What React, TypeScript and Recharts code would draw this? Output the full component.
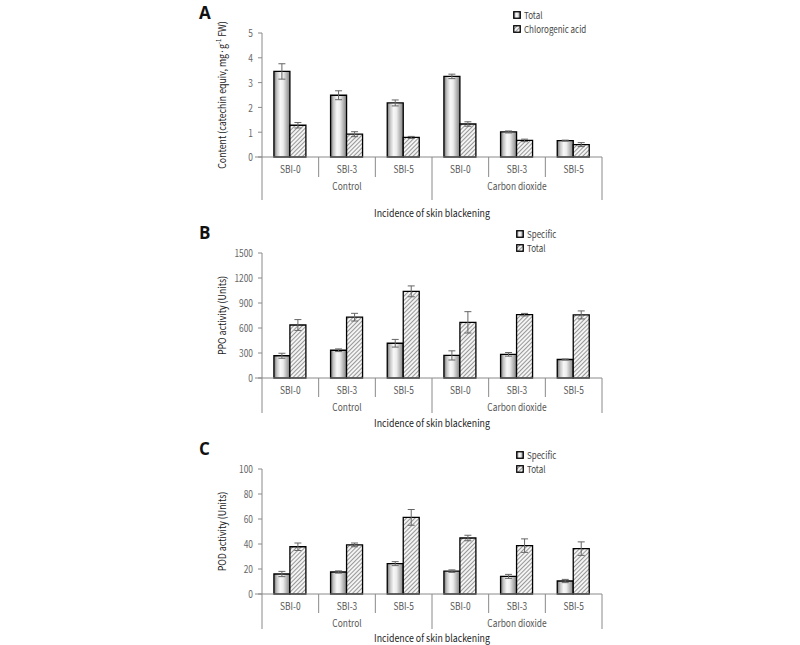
import React from "react";
import {
  BarChart,
  Bar,
  XAxis,
  YAxis,
  ErrorBar,
  Legend,
} from "recharts";

const categories = ["SBI-0", "SBI-3", "SBI-5", "SBI-0", "SBI-3", "SBI-5"];
const groupLabels = ["", "Control", "", "", "Carbon dioxide", ""];

// A: phenolic content
const phenolTotal = [3.45, 2.49, 2.18, 3.25, 1.01, 0.66];
const phenolTotalErr = [0.31, 0.18, 0.12, 0.09, 0.04, 0.02];
const chlorogenic = [1.28, 0.92, 0.79, 1.33, 0.67, 0.5];
const chlorogenicErr = [0.11, 0.1, 0.04, 0.09, 0.05, 0.08];

// B: PPO activity
const ppoSpecific = [267, 333, 417, 271, 284, 222];
const ppoSpecificErr = [30, 16, 46, 55, 22, 6];
const ppoTotal = [636, 730, 1040, 668, 760, 757];
const ppoTotalErr = [65, 46, 65, 128, 15, 48];

// C: POD activity
const podSpecific = [16.0, 17.6, 24.3, 18.3, 14.1, 10.4];
const podSpecificErr = [2.1, 0.9, 1.6, 1.0, 1.6, 1.3];
const podTotal = [37.8, 39.3, 61.3, 44.8, 38.7, 36.3];
const podTotalErr = [3.0, 1.5, 6.3, 2.2, 5.4, 5.4];

const ticksA = [0, 1, 2, 3, 4, 5];
const ticksB = [0, 300, 600, 900, 1200, 1500];
const ticksC = [0, 20, 40, 60, 80, 100];

const FONT = "'Noto Sans CJK KR', 'Noto Sans', sans-serif";
const SQUEEZE = 0.84; // the source font is a narrow one
const AXIS = "#8a8a8a";
const PLOT_LEFT = 262;
const PLOT_RIGHT = 602;
const BAND = (PLOT_RIGHT - PLOT_LEFT) / categories.length;

function buildRows(a: number[], aErr: number[], b: number[], bErr: number[]) {
  return categories.map((c, i) => ({
    cat: c,
    a: a[i],
    aErr: aErr[i],
    b: b[i],
    bErr: bErr[i],
  }));
}

// text squeezed horizontally around its anchor point
function NText(props: any) {
  const { x, y, rotate = 0, anchor = "middle", size = 10, fill = "#555", children } = props;
  return (
    <g transform={`translate(${x},${y}) rotate(${rotate}) scale(${SQUEEZE},1)`}>
      <text x={0} y={0} textAnchor={anchor} dominantBaseline="central" fontSize={size} fill={fill} fontFamily={FONT}>
        {children}
      </text>
    </g>
  );
}

function CategoryTick(props: any) {
  const { x, y, payload, shortLen, longLen } = props;
  const i = payload.index ?? 0;
  const left = x - BAND / 2;
  const right = x + BAND / 2;
  const isGroupEdge = i === 0 || i === 3;
  return (
    <g>
      <line x1={left} y1={y} x2={left} y2={y + (isGroupEdge ? longLen : shortLen)} stroke={AXIS} />
      {i === 0 && <line x1={left - 7} y1={y} x2={left} y2={y} stroke={AXIS} />}
      {i === categories.length - 1 && (
        <line x1={right} y1={y} x2={right} y2={y + longLen} stroke={AXIS} />
      )}
      <NText x={x} y={y + 12}>{payload.value}</NText>
      {groupLabels[i] && <NText x={x} y={y + 29}>{groupLabels[i]}</NText>}
    </g>
  );
}

function ValueTick(props: any) {
  const { x, y, payload } = props;
  return <NText x={x} y={y} anchor="end" fill="#666">{payload.value}</NText>;
}

function XTitle(props: any) {
  const { viewBox, dy } = props;
  return (
    <NText x={viewBox.x + viewBox.width / 2} y={viewBox.y + dy} size={10.5} fill="#222">
      Incidence of skin blackening
    </NText>
  );
}

function YTitle(props: any) {
  const { viewBox, text } = props;
  return (
    <NText x={PLOT_LEFT - 40} y={viewBox.y + viewBox.height / 2} rotate={-90} size={10.5} fill="#222">
      {text}
    </NText>
  );
}

function LegendBox(props: any) {
  const { names, id } = props;
  const fills = [`url(#cyl-${id})`, `url(#hatch-${id})`];
  return (
    <div style={{ fontFamily: FONT, fontSize: 9.5, color: "#444", lineHeight: "14px" }}>
      {names.map((n: string, k: number) => (
        <div key={n} style={{ display: "flex", alignItems: "center" }}>
          <svg width={8} height={8} style={{ marginRight: 3 }}>
            <rect x={0.75} y={0.75} width={6.5} height={6.5} fill={fills[k]} stroke="#000" strokeWidth={1.3} />
          </svg>
          <span style={{ display: "inline-block", transform: `scaleX(${SQUEEZE})`, transformOrigin: "left center", whiteSpace: "nowrap" }}>
            {n}
          </span>
        </div>
      ))}
    </div>
  );
}

function Panel(props: any) {
  const {
    id, letter, top, plotHeight, axisHeight, domain, ticks, yTitle,
    rows, names, shortLen, longLen, titleDy, legendTop, legendLeft,
  } = props;
  const height = 5 + plotHeight + axisHeight;
  return (
    <div style={{ position: "absolute", left: 0, top, width: 800, height }}>
      <div style={{ position: "absolute", left: 199, top: 1, fontFamily: "'Open Sans', sans-serif", fontWeight: 700, fontSize: 17, color: "#111" }}>
        {letter}
      </div>
      <BarChart
        width={800}
        height={height}
        data={rows}
        margin={{ top: 5, right: 800 - PLOT_RIGHT, bottom: 0, left: 0 }}
        barCategoryGap="21%"
        barGap={0}
        style={{ overflow: "visible" }}
      >
        <defs>
          <linearGradient id={`cyl-${id}`} x1="0" y1="0" x2="1" y2="0">
            <stop offset="0%" stopColor="#6e6e6e" />
            <stop offset="18%" stopColor="#c4c4c4" />
            <stop offset="40%" stopColor="#f8f8f8" />
            <stop offset="58%" stopColor="#ececec" />
            <stop offset="85%" stopColor="#a8a8a8" />
            <stop offset="100%" stopColor="#808080" />
          </linearGradient>
          <pattern id={`hatch-${id}`} width={3} height={3} patternUnits="userSpaceOnUse" patternTransform="rotate(45)">
            <rect width={3} height={3} fill="#f4f4f4" />
            <line x1={0} y1={0} x2={0} y2={3} stroke="#4a4a4a" strokeWidth={1.1} />
          </pattern>
        </defs>
        <XAxis
          dataKey="cat"
          interval={0}
          tickSize={0}
          tickMargin={0}
          tickLine={false}
          height={axisHeight}
          stroke={AXIS}
          tick={<CategoryTick shortLen={shortLen} longLen={longLen} />}
          label={<XTitle dy={titleDy} />}
        />
        <YAxis
          width={PLOT_LEFT}
          domain={domain}
          ticks={ticks}
          interval={0}
          stroke={AXIS}
          tickSize={4}
          tickMargin={5}
          tick={<ValueTick />}
          label={<YTitle text={yTitle} />}
        />
        <Legend
          verticalAlign="top"
          align="left"
          content={<LegendBox names={names} id={id} />}
          wrapperStyle={{ position: "absolute", left: legendLeft, top: legendTop, width: 140 }}
        />
        <Bar dataKey="a" name={names[0]} fill={`url(#cyl-${id})`} stroke="#000" strokeWidth={1.3} isAnimationActive={false}>
          <ErrorBar dataKey="aErr" width={3.5} stroke="#666" strokeWidth={1} direction="y" />
        </Bar>
        <Bar dataKey="b" name={names[1]} fill={`url(#hatch-${id})`} stroke="#000" strokeWidth={1.3} isAnimationActive={false}>
          <ErrorBar dataKey="bErr" width={3.5} stroke="#666" strokeWidth={1} direction="y" />
        </Bar>
      </BarChart>
    </div>
  );
}

export default function App() {
  return (
    <div style={{ position: "absolute", left: 0, top: 0, width: 800, height: 645, background: "#fff", overflow: "hidden" }}>
      <Panel
        id="a"
        letter="A"
        top={0}
        plotHeight={152}
        axisHeight={68}
        domain={[0, 5]}
        ticks={ticksA}
        yTitle={<tspan>Content (catechin equiv, mg·g<tspan dy={-4} fontSize={7}>-1</tspan><tspan dy={4}> FW)</tspan></tspan>}
        rows={buildRows(phenolTotal, phenolTotalErr, chlorogenic, chlorogenicErr)}
        names={["Total", "Chlorogenic acid"]}
        shortLen={20}
        longLen={43}
        titleDy={56}
        legendTop={8}
        legendLeft={513}
      />
      <Panel
        id="b"
        letter="B"
        top={220}
        plotHeight={153}
        axisHeight={60}
        domain={[0, 1500]}
        ticks={ticksB}
        yTitle="PPO activity (Units)"
        rows={buildRows(ppoSpecific, ppoSpecificErr, ppoTotal, ppoTotalErr)}
        names={["Specific", "Total"]}
        shortLen={19}
        longLen={35}
        titleDy={45}
        legendTop={7}
        legendLeft={516}
      />
      <Panel
        id="c"
        letter="C"
        top={436}
        plotHeight={153}
        axisHeight={51}
        domain={[0, 100]}
        ticks={ticksC}
        yTitle="POD activity (Units)"
        rows={buildRows(podSpecific, podSpecificErr, podTotal, podTotalErr)}
        names={["Specific", "Total"]}
        shortLen={19}
        longLen={35}
        titleDy={44}
        legendTop={12}
        legendLeft={516}
      />
    </div>
  );
}
